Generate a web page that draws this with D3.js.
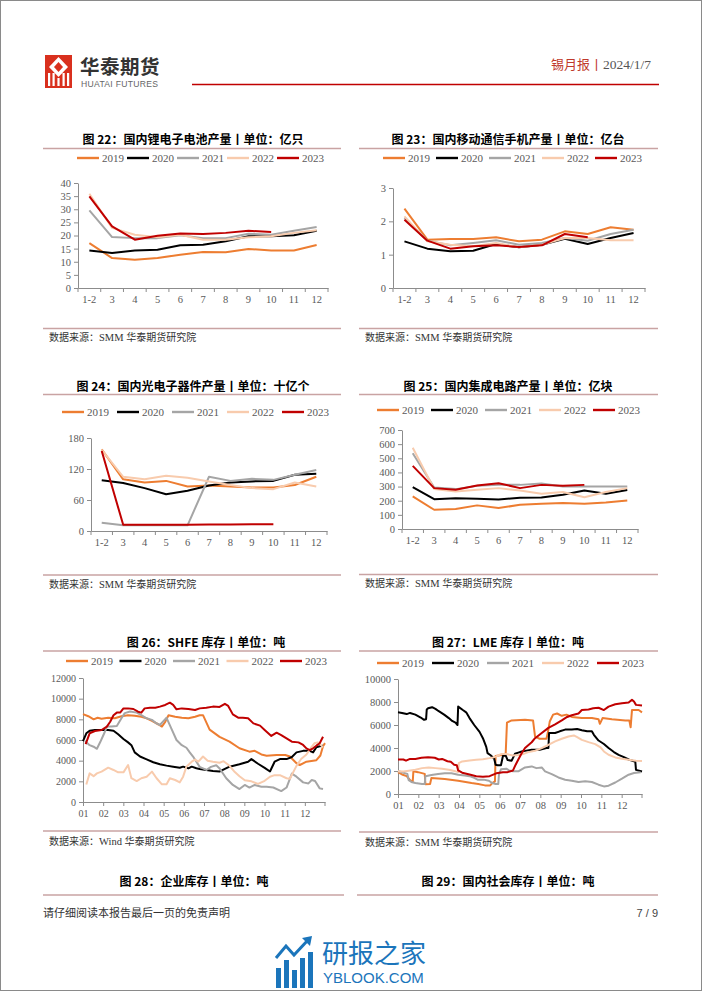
<!DOCTYPE html>
<html><head><meta charset="utf-8">
<script src="https://cdn.jsdelivr.net/npm/d3@7"></script>
<style>
html,body{margin:0;padding:0;background:#fff;}
svg{display:block;}
</style></head>
<body>
<svg id="page" width="702" height="991"></svg>
<script>
// ---------------- DATA ----------------
const years = ["2019","2020","2021","2022","2023"];
const cats = ["1-2","3","4","5","6","7","8","9","10","11","12"];
const monthLabels = ["01","02","03","04","05","06","07","08","09","10","11","12"];

// 图22 锂电子电池产量 (亿只)
const li2019 = [17.1,11.4,10.8,11.4,12.7,13.7,13.6,14.9,14.3,14.3,16.4];
const li2020 = [14.3,13.3,14.3,14.6,16.3,16.5,17.8,19.7,19.7,20.1,21.8];
const li2021 = [29.6,19.4,19.0,19.0,20.1,19.0,19.0,20.7,20.3,21.8,23.2];
const li2022 = [35.9,22.9,20.3,19.3,20.3,18.4,18.4,19.3,19.7,21.0,22.0];
const li2023 = [34.9,23.5,18.4,19.9,20.8,20.6,21.0,21.8,21.3];

// 图23 移动通信手机产量 (亿台)
const ph2019 = [2.38,1.45,1.47,1.47,1.52,1.40,1.45,1.70,1.62,1.82,1.75];
const ph2020 = [1.40,1.18,1.10,1.12,1.32,1.22,1.30,1.48,1.32,1.50,1.65];
const ph2021 = [2.10,1.42,1.28,1.35,1.43,1.30,1.35,1.50,1.42,1.62,1.75];
const ph2022 = [2.15,1.40,1.30,1.25,1.35,1.22,1.30,1.50,1.50,1.43,1.43];
const ph2023 = [2.05,1.42,1.18,1.25,1.28,1.23,1.28,1.62,1.52];

// 图24 光电子器件产量 (十亿个)
const op2019 = [158,100,94,97,86,88,86,84,84,89,105];
const op2020 = [98,93,83,71,78,88,94,96,97,109,111];
const op2021 = [16,11,11,11,11,105,97,101,99,109,118];
const op2022 = [157,105,100,107,103,96,89,83,81,94,86];
const op2023 = [155,12,12,12,12,12.5,12.5,13,13];

// 图25 集成电路产量 (亿块)
const ic2019 = [230,136,141,167,148,171,178,183,178,188,202];
const ic2020 = [296,211,218,214,209,221,223,242,272,249,275];
const ic2021 = [535,294,282,305,312,312,322,300,300,300,300];
const ic2022 = [575,282,265,277,289,272,249,261,225,261,289];
const ic2023 = [446,289,277,308,324,289,312,305,312];

// 图26 SHFE库存 (吨) [day of year, value]
const shfe2019 = [[0,8500],[8,8300],[16,8000],[22,8150],[28,8050],[38,8150],[48,8100],[58,8300],[68,8400],[78,8350],[88,8250],[96,8100],[104,7850],[114,7500],[119,7300],[124,7750],[129,8400],[139,8250],[149,8150],[159,8100],[169,8250],[176,8400],[181,8400],[191,7000],[206,6300],[221,5850],[236,5200],[251,4870],[259,4950],[269,4600],[277,4480],[292,4550],[305,4550],[312,4400],[322,3750],[327,3580],[337,3900],[352,4050],[358,4500],[362,5400],[365,5700]];
const shfe2020 = [[0,5900],[5,6650],[10,6900],[18,6970],[28,6970],[38,6970],[46,6900],[53,6550],[61,6100],[68,5770],[73,5500],[78,4800],[86,4400],[96,4130],[106,3850],[116,3650],[126,3520],[136,3420],[146,3320],[151,3420],[159,3260],[164,3420],[171,3260],[176,3190],[186,3100],[196,3000],[206,2950],[214,3200],[221,3420],[236,3650],[249,3900],[254,4150],[264,3700],[274,3300],[282,2950],[289,3900],[297,4150],[307,4150],[315,4350],[322,4800],[332,4950],[342,4950],[347,4800],[352,5300],[357,5400],[362,5450]];
const shfe2021 = [[3,5900],[10,5500],[16,5350],[21,5150],[26,5800],[32,6650],[36,7300],[43,7300],[51,7350],[58,8100],[63,8600],[71,8750],[81,8650],[88,8400],[96,8100],[104,7950],[111,7600],[116,7450],[123,7950],[126,8150],[134,7000],[141,6000],[149,5500],[156,5250],[161,4800],[166,4400],[171,3900],[176,3400],[181,3250],[186,3100],[193,3400],[201,3550],[206,3250],[216,2300],[226,1650],[236,1250],[244,1650],[251,1400],[259,1650],[269,1480],[277,1480],[287,1400],[299,1060],[307,1400],[315,2750],[322,2450],[332,1900],[340,1800],[345,2130],[350,2030],[357,1320],[362,1260]];
const shfe2022 = [[5,1700],[10,2770],[16,2500],[21,2770],[28,2940],[38,3320],[46,3100],[53,2870],[61,2870],[68,3580],[73,2300],[81,2030],[88,2300],[96,2450],[104,2940],[111,2300],[119,1710],[126,1710],[131,2300],[139,2130],[146,1900],[151,2450],[156,3420],[164,3900],[169,4100],[174,3900],[181,4400],[188,4000],[196,3900],[206,3800],[212,3950],[221,3500],[229,2900],[236,2500],[244,2100],[254,2000],[264,1750],[274,2050],[282,2450],[289,2600],[297,2600],[307,2300],[312,2250],[322,3500],[329,4160],[337,4600],[344,5260],[349,5680],[354,5770],[359,5500],[362,5300]];
const shfe2023 = [[4,5600],[10,6650],[18,6870],[28,6970],[36,7300],[41,7770],[46,8400],[51,8650],[56,8650],[61,9060],[68,9060],[76,9000],[83,8740],[88,8650],[93,9060],[101,9130],[109,9130],[116,9230],[124,9390],[131,9610],[136,9400],[141,8970],[149,9060],[159,9000],[169,8900],[176,9060],[186,9130],[196,9230],[206,9200],[214,9500],[219,9300],[226,8480],[234,8160],[241,8160],[249,8100],[257,7610],[267,7390],[274,6970],[284,6390],[292,6710],[299,6480],[307,6160],[315,5840],[325,5770],[332,5520],[337,5190],[342,5030],[347,5200],[352,5450],[357,5680],[362,6320]];

// 图27 LME库存 (吨) [day of year, value]
const lme2019 = [[0,1900],[6,1700],[13,1550],[18,1200],[22,1050],[23,1970],[30,1900],[40,1750],[41,850],[48,870],[50,1400],[70,1300],[90,1150],[110,950],[120,870],[130,750],[138,750],[141,950],[145,1100],[146,3300],[155,3400],[161,3400],[163,6200],[170,6400],[190,6450],[202,6400],[205,5000],[212,4800],[222,4800],[224,5300],[227,6300],[232,6900],[238,7000],[245,6800],[252,6900],[260,6700],[275,6600],[290,6600],[300,6500],[302,6100],[306,6600],[320,6500],[340,6400],[346,6400],[348,5800],[350,7300],[360,7300],[365,7100]];
const lme2020 = [[0,7100],[6,7050],[13,6950],[18,7050],[26,6900],[34,6650],[39,6450],[42,6500],[43,7350],[45,7450],[51,7550],[56,7400],[61,7200],[69,6900],[76,6600],[81,6350],[86,6200],[89,6000],[90,7600],[97,7300],[102,7100],[107,6600],[114,6000],[122,5400],[127,4850],[132,4100],[134,3550],[139,3350],[144,3050],[146,2550],[149,2500],[154,2500],[157,3300],[161,3350],[164,2950],[170,2900],[175,3500],[180,3600],[185,3700],[190,3750],[200,3850],[212,3850],[222,4000],[225,4000],[226,5300],[235,5300],[242,5450],[250,5600],[260,5600],[268,5650],[275,5550],[283,5450],[290,5450],[293,5150],[300,4650],[308,4350],[315,4000],[323,3650],[330,3400],[338,3200],[345,3000],[353,2850],[355,2800],[356,2100],[365,1950]];
const lme2021 = [[0,2000],[8,1850],[14,1750],[16,1200],[20,1050],[26,950],[36,870],[40,870],[41,1550],[50,1650],[60,1730],[70,1800],[80,1800],[90,1680],[100,1600],[107,1550],[114,1400],[119,1250],[128,1250],[136,1150],[141,950],[146,870],[150,870],[151,1700],[154,2150],[162,2200],[166,2050],[172,1970],[180,1970],[190,2310],[200,2400],[207,2250],[215,2310],[220,1970],[230,1730],[240,1440],[250,1240],[260,1160],[270,1040],[280,1100],[290,1040],[300,810],[308,660],[315,720],[325,1000],[335,1330],[345,1680],[353,1820],[363,1900]];
const lme2022 = [[0,1970],[8,1950],[16,2020],[26,2110],[36,2250],[46,2310],[56,2250],[66,2200],[76,2110],[86,1970],[90,1900],[91,2690],[96,2830],[107,2920],[117,2980],[127,3030],[137,3120],[142,3180],[147,3270],[154,3470],[162,3470],[172,3350],[180,3400],[187,3470],[195,3640],[205,3760],[215,3990],[225,4280],[235,4570],[245,4800],[255,5000],[263,5090],[268,4950],[275,4710],[285,4510],[295,4340],[303,4050],[308,3700],[315,3410],[325,3180],[335,3060],[345,2980],[356,2890],[365,2880]];
const lme2023 = [[0,3000],[8,3000],[12,2900],[18,3050],[26,3050],[35,3150],[45,3200],[55,3150],[61,3000],[66,3050],[74,2850],[79,2800],[84,2550],[88,2500],[90,2050],[96,1850],[107,1700],[117,1550],[127,1500],[137,1550],[147,1800],[157,1900],[164,1900],[172,2050],[176,2550],[180,3000],[185,3550],[190,4000],[200,4500],[205,4850],[215,5300],[225,5750],[235,6050],[245,6400],[253,6700],[260,6850],[270,7000],[275,7300],[285,7350],[292,7450],[300,7500],[308,7300],[315,7600],[325,7800],[335,7900],[345,7950],[350,8200],[353,8050],[356,7750],[365,7700]];

// ---------------- STYLE ----------------
const colors = ["#ED7D31","#000000","#A5A5A5","#F8CBAD","#C00000"];
const serif = "'Liberation Serif','Times New Roman',serif";
const cjk = "'Noto Sans CJK SC','Noto Sans',sans-serif";
const ruleColor = "#C9A3A3";
const axisColor = "#8C8C8C";
const labelColor = "#595959";
const intFmt = d3.format("d");

const svg = d3.select("#page");
svg.append("rect").attr("x",0.5).attr("y",0.5).attr("width",701).attr("height",990)
  .attr("fill","#fff").attr("stroke","#8a8a8a").attr("stroke-width",1);

// ---------------- HEADER ----------------
const logo = svg.append("g");
logo.append("rect").attr("x",45).attr("y",55).attr("width",27).attr("height",33).attr("fill","#D9301E");
logo.append("path").attr("d","M58.5,57 L68,67 L58.5,77 L49,67 Z").attr("fill","#fff");
logo.append("path").attr("d","M58.5,62 L63,67 L58.5,72 L54,67 Z").attr("fill","#D9301E");
[49,53.5,63.5,68].forEach(x=>logo.append("rect").attr("x",x-1).attr("y",73).attr("width",2.2).attr("height",13).attr("fill","#fff"));
logo.append("rect").attr("x",57.4).attr("y",78).attr("width",2.2).attr("height",8).attr("fill","#fff");
svg.append("text").attr("x",80).attr("y",74).attr("font-family",cjk).attr("font-weight","bold")
  .attr("font-size",19.5).attr("fill","#333").attr("letter-spacing",0.5).text("华泰期货");
svg.append("text").attr("x",81).attr("y",87).attr("font-family","'Liberation Sans',Arial,sans-serif")
  .attr("font-size",8.6).attr("fill","#666").attr("letter-spacing",0.3).text("HUATAI FUTURES");
svg.append("line").attr("x1",192).attr("x2",659).attr("y1",84.5).attr("y2",84.5).attr("stroke","#C00000").attr("stroke-width",1.6);
svg.append("text").attr("x",551).attr("y",69).attr("font-family",cjk).attr("font-size",13).attr("fill","#C0392B").text("锡月报丨");
svg.append("text").attr("x",651).attr("y",69).attr("text-anchor","end").attr("font-family",serif).attr("font-size",13.5).attr("fill","#555").text("2024/1/7");

// ---------------- HELPERS ----------------
function frame(o){
  svg.append("text").attr("x",o.tx).attr("y",o.ty).attr("text-anchor","middle")
    .attr("font-family",cjk).attr("font-weight","bold").attr("font-size",12).attr("fill","#000").text(o.title);
  svg.append("line").attr("x1",o.rx0).attr("x2",o.rx1).attr("y1",o.ruleY).attr("y2",o.ruleY)
    .attr("stroke",ruleColor).attr("stroke-width",1.5);
  if(o.srcY!==undefined){
    svg.append("line").attr("x1",o.rx0).attr("x2",o.rx1).attr("y1",o.srcLineY).attr("y2",o.srcLineY)
      .attr("stroke",ruleColor).attr("stroke-width",1.5);
    const t = svg.append("text").attr("x",o.srcX).attr("y",o.srcY).attr("font-size",10).attr("fill","#333");
    t.append("tspan").attr("font-family",cjk).text("数据来源：");
    t.append("tspan").attr("font-family",serif).attr("font-size",10.5).text(o.srcName+" ");
    t.append("tspan").attr("font-family",cjk).text("华泰期货研究院");
  }
  if(o.legendX!==undefined){
    years.forEach((yr,i)=>{
      const lx = o.legendX + i*o.legendStep;
      svg.append("line").attr("x1",lx).attr("x2",lx+22).attr("y1",o.legendY).attr("y2",o.legendY)
        .attr("stroke",colors[i]).attr("stroke-width",2.4);
      svg.append("text").attr("x",lx+25).attr("y",o.legendY+3.8).attr("font-family",serif)
        .attr("font-size",11).attr("fill",labelColor).text(yr);
    });
  }
}

function yAxis(g,y,ticks,x0,fs){
  const ax = g.append("g").attr("transform",`translate(${x0},0)`)
    .call(d3.axisLeft(y).tickValues(ticks).tickFormat(intFmt).tickSize(4).tickSizeOuter(0).tickPadding(3));
  ax.attr("font-family",null);
  ax.select(".domain").attr("stroke",axisColor);
  ax.selectAll(".tick line").attr("stroke",axisColor);
  ax.selectAll("text").attr("font-family",serif).attr("font-size",fs).attr("fill",labelColor);
  return ax;
}

function monthlyChart(o){
  frame(o);
  const g = svg.append("g");
  const x = d3.scaleBand().domain(cats).range([o.x0,o.x1]).paddingInner(0).paddingOuter(0);
  const y = d3.scaleLinear().domain([0,o.ymax]).range([o.yb,o.yt]);
  yAxis(g,y,d3.range(0,o.ymax+o.ystep/2,o.ystep),o.x0,10.5);
  const xa = g.append("g").attr("transform",`translate(0,${o.yb})`)
    .call(d3.axisBottom(x).tickSize(0).tickPadding(8));
  xa.attr("font-family",null);
  xa.select(".domain").attr("stroke",axisColor);
  xa.selectAll("text").attr("font-family",serif).attr("font-size",10.5).attr("fill",labelColor);
  const bounds = cats.map(c=>x(c)).concat([o.x1]);
  g.selectAll(null).data(bounds).enter().append("line")
    .attr("x1",d=>d).attr("x2",d=>d).attr("y1",o.yb).attr("y2",o.yb+4).attr("stroke",axisColor);
  const line = d3.line().x((d,i)=>x(cats[i])+x.bandwidth()/2).y(d=>y(d));
  o.series.forEach((s,i)=>{
    g.append("path").attr("d",line(s)).attr("fill","none").attr("stroke",colors[i])
      .attr("stroke-width",2).attr("stroke-linejoin","round");
  });
}

function dailyChart(o){
  frame(o);
  const g = svg.append("g");
  const x = d3.scaleLinear().domain([0,365]).range([o.x0,o.x1]);
  const y = d3.scaleLinear().domain([0,o.ymax]).range([o.yb,o.yt]);
  yAxis(g,y,d3.range(0,o.ymax+1,o.ystep),o.x0,o.fs);
  const monthStarts = d3.range(12).map(m=>m*365/12);
  const xa = g.append("g").attr("transform",`translate(0,${o.yb})`)
    .call(d3.axisBottom(x).tickValues(monthStarts).tickFormat((d,i)=>monthLabels[i]).tickSize(4).tickSizeOuter(0).tickPadding(4));
  xa.attr("font-family",null);
  xa.select(".domain").attr("stroke",axisColor);
  xa.selectAll(".tick line").attr("stroke",axisColor);
  xa.selectAll("text").attr("font-family",serif).attr("font-size",o.fs).attr("fill",labelColor);
  g.append("line").attr("x1",o.x1).attr("x2",o.x1).attr("y1",o.yb).attr("y2",o.yb+4).attr("stroke",axisColor);
  const line = d3.line().x(d=>x(d[0])).y(d=>y(d[1]));
  o.series.forEach((s,i)=>{
    g.append("path").attr("d",line(s)).attr("fill","none").attr("stroke",colors[i])
      .attr("stroke-width",2).attr("stroke-linejoin","round");
  });
}

// ---------------- CHARTS ----------------
monthlyChart({title:"图 22：国内锂电子电池产量丨单位：亿只",tx:193,ty:144,rx0:43,rx1:341,ruleY:148.5,
  legendX:77,legendStep:50,legendY:158,srcY:341,srcLineY:328.5,srcX:49,srcName:"SMM",
  x0:78,x1:328,yb:288,yt:183,ymax:40,ystep:5,series:[li2019,li2020,li2021,li2022,li2023]});

monthlyChart({title:"图 23：国内移动通信手机产量丨单位：亿台",tx:508,ty:144,rx0:359,rx1:658,ruleY:148.5,
  legendX:383,legendStep:53,legendY:158,srcY:341,srcLineY:328.5,srcX:365,srcName:"SMM",
  x0:393,x1:645,yb:288,yt:188,ymax:3,ystep:1,series:[ph2019,ph2020,ph2021,ph2022,ph2023]});

monthlyChart({title:"图 24：国内光电子器件产量丨单位：十亿个",tx:193,ty:391,rx0:43,rx1:341,ruleY:394.5,
  legendX:62,legendStep:55,legendY:412,srcY:588,srcLineY:575,srcX:49,srcName:"SMM",
  x0:91,x1:327,yb:531,yt:438,ymax:180,ystep:60,series:[op2019,op2020,op2021,op2022,op2023]});

monthlyChart({title:"图 25：国内集成电路产量丨单位：亿块",tx:508,ty:391,rx0:359,rx1:658,ruleY:394.5,
  legendX:377,legendStep:54,legendY:410,srcY:587,srcLineY:574.5,srcX:365,srcName:"SMM",
  x0:402,x1:638,yb:529,yt:430,ymax:700,ystep:100,series:[ic2019,ic2020,ic2021,ic2022,ic2023]});

dailyChart({title:"图 26：SHFE 库存丨单位：吨",tx:206,ty:647,rx0:43,rx1:341,ruleY:651,
  legendX:66,legendStep:53.5,legendY:661,srcY:845,srcLineY:831,srcX:49,srcName:"Wind",fs:10,
  x0:83,x1:325,yb:802,yt:678,ymax:12000,ystep:2000,series:[shfe2019,shfe2020,shfe2021,shfe2022,shfe2023]});

dailyChart({title:"图 27：LME 库存丨单位：吨",tx:508,ty:647,rx0:359,rx1:658,ruleY:651,
  legendX:377,legendStep:55,legendY:663,srcY:846,srcLineY:832,srcX:365,srcName:"SMM",fs:10.5,
  x0:398,x1:642,yb:794,yt:679,ymax:10000,ystep:2000,series:[lme2019,lme2020,lme2021,lme2022,lme2023]});

frame({title:"图 28：企业库存丨单位：吨",tx:194,ty:886,rx0:43,rx1:344,ruleY:895});
frame({title:"图 29：国内社会库存丨单位：吨",tx:508,ty:886,rx0:357,rx1:658,ruleY:895});

// ---------------- FOOTER ----------------
svg.append("text").attr("x",43).attr("y",917).attr("font-family",cjk).attr("font-size",11).attr("fill","#333").text("请仔细阅读本报告最后一页的免责声明");
svg.append("text").attr("x",658).attr("y",917).attr("text-anchor","end").attr("font-family","'Liberation Sans',sans-serif").attr("font-size",11).attr("fill","#444").text("7 / 9");

const wm = svg.append("g");
const blue = "#1B75BB";
[[276,968,5,20],[284,960,5,28],[292,970,5,18],[300,958,5,30],[308,952,5,36]].forEach(b=>
  wm.append("rect").attr("x",b[0]).attr("y",b[1]).attr("width",b[2]).attr("height",b[3]).attr("fill",blue));
wm.append("path").attr("d","M276,958 L286,946 L294,955 L308,940").attr("fill","none").attr("stroke",blue).attr("stroke-width",3);
wm.append("path").attr("d","M302,938 L312,936 L310,946 Z").attr("fill",blue);
svg.append("text").attr("x",322).attr("y",963).attr("font-family",cjk).attr("font-size",26).attr("fill",blue).text("研报之家");
svg.append("text").attr("x",323).attr("y",983).attr("font-family","'Liberation Sans',sans-serif").attr("font-size",15).attr("fill",blue).text("YBLOOK.COM");
</script>
</body></html>
